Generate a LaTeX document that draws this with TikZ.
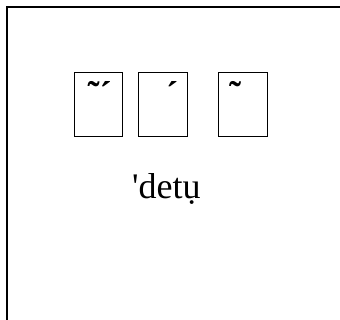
\documentclass[tikz,border=0pt]{standalone}
\usepackage{fontspec}
\setmainfont{Liberation Serif}
\begin{document}
\begin{tikzpicture}[x=1pt,y=-1pt,
    cell/.style={draw,line width=0.9pt,minimum width=48.5pt,minimum height=64pt,inner sep=0pt},
    glyph/.style={inner sep=0pt,anchor=base west,font=\fontsize{36}{40}\selectfont},
    accent/.style={glyph,font=\fontsize{36}{40}\selectfont\bfseries}]
  \useasboundingbox (0,0) rectangle (340,320);
  \draw[line width=2.4pt] (7,330) -- (7,7) -- (350,7);
  \draw
    (98.3,104.7) node[cell] (c0){}
    (162.8,104.7) node[cell] (c1){}
    (242.8,104.7) node[cell] (c2){};
  \draw
    (87.5,107) node[accent] (m0){˜´}
    (166,107) node[accent] (m1){´}
    (229,107) node[accent] (m2){˜};
  \node[glyph] (word) at (132,199) {\textquotesingle detụ};
\end{tikzpicture}
\end{document}
